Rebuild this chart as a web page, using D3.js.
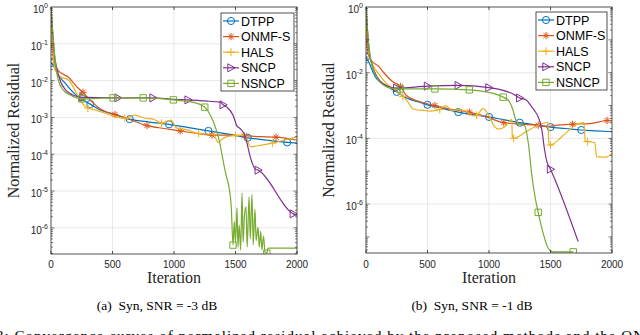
<!DOCTYPE html>
<html>
<head>
<meta charset="utf-8">
<script src="https://cdn.jsdelivr.net/npm/d3@7"></script>
<style>
  body { margin: 0; background: #fff; }
  svg { display: block; }
  .serif { font-family: "Liberation Serif", "DejaVu Serif", serif; }
  .sans { font-family: "Liberation Sans", Arial, sans-serif; }
</style>
</head>
<body>
<svg id="fig" width="640" height="335"></svg>
<script>
// legend names, matlab default colours, marker shapes
var names = ["DTPP", "ONMF-S", "HALS", "SNCP", "NSNCP"];
var colors = ["#0072BD", "#D95319", "#EDB120", "#7E2F8E", "#77AC30"];
var shapes = ["circle", "asterisk", "plus", "triangle", "square"];

var xTicks = [0, 500, 1000, 1500, 2000];
var yExpA = [0, -1, -2, -3, -4, -5, -6];   // labelled decades, panel (a)
var yExpB = [0, -2, -4, -6];               // labelled decades, panel (b)
var captions = ["(a) Syn, SNR = -3 dB", "(b) Syn, SNR = -1 dB"];

// ---------------------------------------------------------------- (a) SNR = -3 dB
// [iteration, normalized residual]
var a_DTPP = [[0,0.03],[15,0.027],[60,0.014],[115,0.0085],[180,0.0048],[250,0.0031],[320,0.0023],
  [400,0.0016],[520,0.0012],[640,0.0009],[800,0.00075],[960,0.00065],[1120,0.00053],[1280,0.00043],
  [1440,0.00035],[1600,0.00028],[1760,0.00024],[1920,0.00021],[2000,0.0002]];
var a_ONMF = [[0,0.45],[8,0.1],[20,0.04],[57,0.019],[140,0.0125],[220,0.0063],[260,0.0048],[317,0.003],
  [382,0.0019],[450,0.0014],[520,0.0012],[650,0.00085],[780,0.0006],[920,0.0005],[1050,0.00043],
  [1180,0.00037],[1310,0.00033],[1440,0.00033],[1570,0.00032],[1700,0.0003],[1830,0.00029],[2000,0.00024]];
var a_HALS = [[0,0.4],[10,0.08],[20,0.035],[33,0.02],[80,0.0125],[140,0.0105],[195,0.0055],[235,0.003],
  [300,0.0018],[360,0.0016],[440,0.0013],[520,0.00105],[600,0.00095],[680,0.00115],[765,0.00095],
  [830,0.0009],[900,0.0007],[975,0.00085],[1020,0.00052],[1105,0.00046],[1200,0.00037],[1320,0.00034],
  [1360,0.00021],[1400,0.00027],[1450,0.00031],[1500,0.00032],[1580,0.00033],[1620,0.00016],
  [1725,0.00018],[1800,0.0002],[1890,0.00024],[2000,0.0003]];
var a_SNCP = [[0,1],[10,0.3],[25,0.06],[50,0.02],[80,0.009],[120,0.0055],[180,0.004],[260,0.0035],
  [545,0.0034],[830,0.0034],[1000,0.0031],[1115,0.003],[1250,0.0028],[1375,0.0026],[1400,0.0022],
  [1430,0.0019],[1480,0.00115],[1510,0.0006],[1537,0.0005],[1580,0.0003],[1600,0.00016],[1620,0.000085],
  [1660,0.00004],[1685,0.000037],[1970,0.0000024],[2000,0.0000022]];
var a_NSNCP = [[0,1],[15,0.2],[30,0.05],[57,0.011],[100,0.0055],[150,0.0042],[250,0.0032],[505,0.0034],
  [750,0.0034],[995,0.003],[1150,0.0026],[1250,0.0019],[1300,0.0011],[1340,0.0005],[1370,0.00022],
  [1395,0.00008],[1420,0.00003],[1450,0.000011],[1465,0.000004],[1480,3.4e-7],[1490,1.5e-6],[1500,4e-7],
  [1512,3.5e-6],[1520,3e-7],[1530,1.2e-6],[1542,2.5e-7],[1553,9e-6],[1562,4e-7],[1572,2e-6],[1585,3.7e-6],
  [1595,3e-7],[1610,7e-6],[1620,5e-7],[1634,8e-6],[1644,3.5e-7],[1658,3.2e-6],[1668,4.5e-7],[1683,1.05e-6],
  [1693,3e-7],[1705,8e-7],[1715,2.5e-7],[1728,6e-7],[1740,2.2e-7],[1755,2.05e-7],[1765,2.8e-7],[2000,2.8e-7]];
var a_marks = [[0,320,640,960,1280,1600,1920],[260,520,780,1050,1310,1570,1830],
  [300,600,900,1200,1500,1800],[260,545,830,1115,1400,1685,1970],[250,505,750,995,1250,1480,1755]];

// ---------------------------------------------------------------- (b) SNR = -1 dB
var b_DTPP = [[0,0.03],[25,0.02],[50,0.012],[80,0.007],[120,0.005],[160,0.0042],[200,0.0033],[250,0.0026],
  [330,0.0017],[420,0.0013],[500,0.00105],[620,0.00082],[750,0.00063],[870,0.00053],[1000,0.00045],
  [1120,0.00037],[1250,0.0003],[1370,0.00026],[1500,0.00022],[1620,0.0002],[1750,0.00018],
  [1870,0.00017],[2000,0.00016]];
var b_ONMF = [[0,0.3],[8,0.08],[20,0.035],[50,0.022],[100,0.016],[140,0.0105],[220,0.0052],[280,0.0038],
  [325,0.0021],[440,0.0013],[560,0.001],[700,0.00075],[840,0.00063],[980,0.00045],[1120,0.0003],
  [1260,0.00027],[1400,0.00025],[1480,0.00023],[1540,0.00025],[1680,0.00027],[1820,0.00028],
  [1960,0.00035],[2000,0.00034]];
var b_HALS = [[0,0.35],[10,0.1],[25,0.035],[60,0.016],[110,0.0085],[170,0.0045],[220,0.0033],[260,0.0025],
  [300,0.0019],[340,0.0013],[380,0.0008],[440,0.00072],[520,0.00068],[600,0.00075],[650,0.001],
  [700,0.0007],[760,0.00075],[820,0.00066],[870,0.00048],[900,0.0005],[950,0.0008],[1000,0.0005],
  [1040,0.00024],[1080,0.00019],[1130,0.00023],[1175,0.00036],[1185,0.00038],[1190,0.00011],
  [1200,0.0001],[1300,0.00016],[1400,0.00025],[1478,0.00031],[1488,0.000065],[1500,0.000063],
  [1600,0.00012],[1710,0.00026],[1772,0.0003],[1782,0.000085],[1800,0.00008],[1860,0.000075],
  [1875,0.000028],[1950,0.000027],[2000,0.000035]];
var b_SNCP = [[0,1],[10,0.25],[25,0.05],[50,0.017],[90,0.0075],[140,0.0045],[200,0.0036],[250,0.0034],
  [500,0.0039],[750,0.0041],[1000,0.0035],[1100,0.003],[1200,0.0022],[1250,0.0017],[1300,0.0015],
  [1340,0.001],[1370,0.0007],[1400,0.00045],[1430,0.00018],[1450,0.00005],[1470,0.00002],
  [1500,0.0000115],[1725,7.2e-8]];
var b_NSNCP = [[0,1],[12,0.2],[30,0.04],[60,0.012],[100,0.006],[150,0.004],[200,0.0034],[280,0.0032],
  [560,0.0032],[840,0.003],[1000,0.0025],[1115,0.0018],[1160,0.0014],[1190,0.00083],[1225,0.00032],
  [1260,0.00027],[1290,0.00024],[1320,0.00007],[1350,0.0000066],[1375,0.0000016],[1400,5.6e-7],
  [1440,1.3e-7],[1480,4.6e-8],[1520,3.5e-8],[1685,3.5e-8]];
var b_marks = [[0,250,500,750,1000,1250,1500,1750],[280,560,840,1120,1400,1680,1960],
  [300,600,900,1200,1500,1800],[250,500,750,1000,1250,1500],[280,560,840,1115,1400,1685]];

// ------------------------------------------------------------------------------------------
var svg = d3.select("#fig");
var axisColor = "#262626";

function markerPath(type) {
  if (type === "circle") return d3.symbol(d3.symbolCircle, 40)();
  if (type === "asterisk") return "M-3.6,0H3.6M0,-3.6V3.6M-2.6,-2.6L2.6,2.6M-2.6,2.6L2.6,-2.6";
  if (type === "plus") return "M-4,0H4M0,-4V4";
  if (type === "triangle") return "M-3.2,-4L4,0L-3.2,4Z";
  return "M-3.2,-3.2H3.2V3.2H-3.2Z";
}

function drawPanel(p) {
  var g = svg.append("g");
  var x = d3.scaleLinear().domain([0, 2000]).range([p.left, p.right]);
  var y = d3.scaleLog().domain([p.yMin, 1]).range([p.bottom, p.top]);

  // grid
  g.selectAll(".gx").data(xTicks.slice(1, -1)).enter().append("line")
    .attr("x1", d => x(d)).attr("x2", d => x(d)).attr("y1", p.top).attr("y2", p.bottom)
    .attr("stroke", "#dfdfdf").attr("stroke-width", 0.7);
  g.selectAll(".gy").data(p.yExp.slice(1)).enter().append("line")
    .attr("x1", p.left).attr("x2", p.right)
    .attr("y1", d => y(Math.pow(10, d))).attr("y2", d => y(Math.pow(10, d)))
    .attr("stroke", "#dfdfdf").attr("stroke-width", 0.7);

  // curves
  var clipId = "clip" + p.id;
  svg.append("clipPath").attr("id", clipId).append("rect")
    .attr("x", p.left).attr("y", p.top).attr("width", p.right - p.left).attr("height", p.bottom - p.top);
  var plot = g.append("g").attr("clip-path", "url(#" + clipId + ")");
  var line = d3.line().x(d => x(d[0])).y(d => y(d[1])).curve(d3.curveMonotoneX);

  p.series.forEach(function(s, i) {
    plot.append("path").datum(s).attr("d", line)
      .attr("fill", "none").attr("stroke", colors[i]).attr("stroke-width", 1.2);
    var pts = p.marks[i].map(it => s.find(d => d[0] === it)).filter(d => d);
    plot.selectAll(".m" + i).data(pts).enter().append("path")
      .attr("d", markerPath(shapes[i]))
      .attr("transform", d => "translate(" + x(d[0]) + "," + y(d[1]) + ")")
      .attr("fill", "none").attr("stroke", colors[i]).attr("stroke-width", 1);
  });

  // box + ticks
  g.append("rect").attr("x", p.left).attr("y", p.top)
    .attr("width", p.right - p.left).attr("height", p.bottom - p.top)
    .attr("fill", "none").attr("stroke", axisColor).attr("stroke-width", 0.8);

  xTicks.forEach(function(t) {
    g.append("line").attr("x1", x(t)).attr("x2", x(t)).attr("y1", p.bottom).attr("y2", p.bottom - 3)
      .attr("stroke", axisColor).attr("stroke-width", 0.8);
    g.append("line").attr("x1", x(t)).attr("x2", x(t)).attr("y1", p.top).attr("y2", p.top + 3)
      .attr("stroke", axisColor).attr("stroke-width", 0.8);
    g.append("text").attr("class", "sans").attr("x", x(t)).attr("y", 268).attr("text-anchor", "middle")
      .attr("font-size", 10).attr("fill", axisColor).text(t);
  });

  // log ticks on both sides: longer at each decade
  var logTicks = [];
  for (var e = -8; e < 0; e++) for (var k = 1; k < 10; k++) {
    var v = k * Math.pow(10, e);
    if (v >= p.yMin && v <= 1) logTicks.push({ v: v, major: k === 1 });
  }
  logTicks.forEach(function(t) {
    var len = t.major ? 3.5 : 2;
    g.append("line").attr("x1", p.left).attr("x2", p.left + len).attr("y1", y(t.v)).attr("y2", y(t.v))
      .attr("stroke", axisColor).attr("stroke-width", 0.6);
    g.append("line").attr("x1", p.right).attr("x2", p.right - len).attr("y1", y(t.v)).attr("y2", y(t.v))
      .attr("stroke", axisColor).attr("stroke-width", 0.6);
  });

  p.yExp.forEach(function(ex) {
    var t = g.append("text").attr("class", "sans").attr("x", p.left - 3).attr("y", y(Math.pow(10, ex)) + 6)
      .attr("text-anchor", "end").attr("font-size", 10).attr("fill", axisColor);
    t.append("tspan").text("10");
    t.append("tspan").attr("dy", -5).attr("font-size", 7).text(ex === 0 ? "0" : "-" + (-ex));
  });

  // axis titles
  g.append("text").attr("class", "serif").attr("x", (p.left + p.right) / 2).attr("y", 283)
    .attr("text-anchor", "middle").attr("font-size", 16).attr("fill", "#262626").text("Iteration");
  g.append("text").attr("class", "serif")
    .attr("transform", "translate(" + (p.left - 32) + "," + ((p.top + p.bottom) / 2) + ") rotate(-90)")
    .attr("text-anchor", "middle").attr("font-size", 16).attr("fill", "#262626").text("Normalized Residual");

  // caption
  g.append("text").attr("class", "serif").attr("x", (p.left + p.right) / 2 - 17).attr("y", 310)
    .attr("text-anchor", "middle").attr("font-size", 13.5).attr("fill", "#000")
    .attr("xml:space", "preserve").text(p.caption.replace(") ", ")  "));

  // legend
  var lg = g.append("g");
  lg.append("rect").attr("x", p.lx).attr("y", p.ly).attr("width", p.lw).attr("height", 78)
    .attr("fill", "#fff").attr("stroke", axisColor).attr("stroke-width", 0.8);
  names.forEach(function(n, i) {
    var cy = p.ly + 8 + i * 15.6;
    lg.append("line").attr("x1", p.lx + 2).attr("x2", p.lx + 18).attr("y1", cy).attr("y2", cy)
      .attr("stroke", colors[i]).attr("stroke-width", 1.2);
    lg.append("path").attr("d", markerPath(shapes[i]))
      .attr("transform", "translate(" + (p.lx + 10) + "," + cy + ")")
      .attr("fill", "none").attr("stroke", colors[i]).attr("stroke-width", 1);
    lg.append("text").attr("class", "sans").attr("x", p.lx + 20).attr("y", cy + 4.5)
      .attr("font-size", 12.5).attr("fill", "#000").text(n);
  });
}

drawPanel({ id: "a", left: 51, right: 297, top: 7, bottom: 254, yMin: Math.pow(10, -6.71),
  yExp: yExpA, series: [a_DTPP, a_ONMF, a_HALS, a_SNCP, a_NSNCP], marks: a_marks,
  caption: captions[0], lx: 221, ly: 13, lw: 73 });
drawPanel({ id: "b", left: 366, right: 612, top: 7, bottom: 253, yMin: Math.pow(10, -7.49),
  yExp: yExpB, series: [b_DTPP, b_ONMF, b_HALS, b_SNCP, b_NSNCP], marks: b_marks,
  caption: captions[1], lx: 536, ly: 12, lw: 71 });

// figure caption, cut by the bottom edge as in the source page
svg.append("text").attr("class", "serif").attr("x", -4).attr("y", 341).attr("font-size", 15)
  .attr("textLength", 648).attr("lengthAdjust", "spacing")
  .text("3: Convergence curves of normalized residual achieved by the proposed methods and the ON");
</script>
</body>
</html>
